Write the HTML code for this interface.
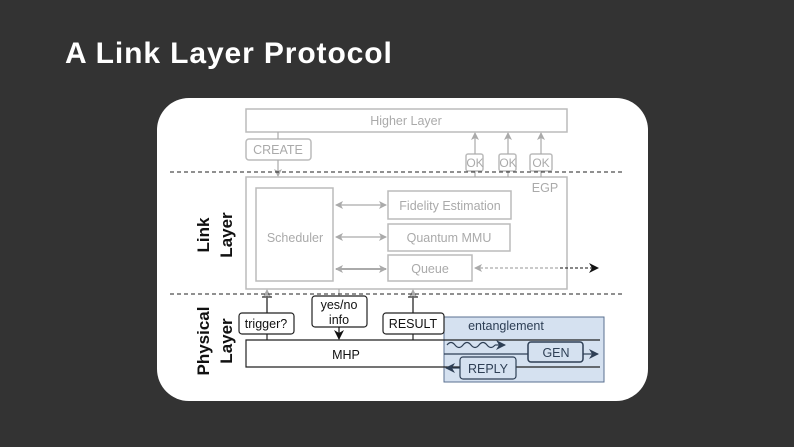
<!DOCTYPE html>
<html><head><style>
body{margin:0;width:794px;height:447px;background:#333333;overflow:hidden;font-family:"Liberation Sans",sans-serif}
</style></head><body>
<svg width="794" height="447" xmlns="http://www.w3.org/2000/svg" style="position:absolute;left:0;top:0">
<defs>
<marker id="ga" markerWidth="8" markerHeight="8" refX="7" refY="4" orient="auto-start-reverse" markerUnits="userSpaceOnUse"><path d="M0,0 L8,4 L0,8 L2,4z" fill="#aaa"/></marker>
<marker id="ka" markerWidth="10" markerHeight="10" refX="9" refY="5" orient="auto-start-reverse" markerUnits="userSpaceOnUse"><path d="M0,0 L10,5 L0,10 L3,5z" fill="#111"/></marker>
<marker id="ba" markerWidth="10" markerHeight="10" refX="9" refY="5" orient="auto-start-reverse" markerUnits="userSpaceOnUse"><path d="M0,0 L10,5 L0,10 L3,5z" fill="#2e3f55"/></marker>
</defs>
<text x="65" y="63" fill="#fff" font-size="30" font-weight="bold" letter-spacing="1.2" textLength="328" lengthAdjust="spacing">A Link Layer Protocol</text>
<rect x="157" y="98" width="491" height="303" rx="32" fill="#fff"/>
<g fill="none" stroke="#bbb" stroke-width="1.5">
<rect x="246" y="109" width="321" height="23"/>
<rect x="246" y="139" width="65" height="21" rx="3"/>
<rect x="466" y="154" width="17" height="17" rx="2"/>
<rect x="499" y="154" width="17" height="17" rx="2"/>
<rect x="530" y="154" width="22" height="17" rx="2"/>
<rect x="246" y="177" width="321" height="112"/>
<rect x="256" y="188" width="77" height="93"/>
<rect x="388" y="191" width="123" height="28"/>
<rect x="388" y="224" width="122" height="27"/>
<rect x="388" y="255" width="84" height="26"/>
</g>
<g stroke="#aaa" stroke-width="1.2" fill="none">
<line x1="278" y1="132" x2="278" y2="139"/>
<line x1="278" y1="160" x2="278" y2="176" marker-end="url(#ga)"/>
<line x1="475" y1="154" x2="475" y2="133" marker-end="url(#ga)"/>
<line x1="508" y1="154" x2="508" y2="133" marker-end="url(#ga)"/>
<line x1="541" y1="154" x2="541" y2="133" marker-end="url(#ga)"/>
<line x1="475" y1="171" x2="475" y2="177"/><line x1="508" y1="171" x2="508" y2="177"/><line x1="541" y1="171" x2="541" y2="177"/>
<line x1="336" y1="205" x2="386" y2="205" marker-start="url(#ga)" marker-end="url(#ga)"/>
<line x1="336" y1="237" x2="386" y2="237" marker-start="url(#ga)" marker-end="url(#ga)"/>
<line x1="336" y1="269" x2="386" y2="269" marker-start="url(#ga)" marker-end="url(#ga)" stroke-width="2"/>
<line x1="475" y1="268" x2="560" y2="268" stroke-dasharray="3,2" marker-start="url(#ga)"/>
<line x1="267" y1="313" x2="267" y2="290" marker-end="url(#ga)"/>
<line x1="413" y1="313" x2="413" y2="290" marker-end="url(#ga)"/>
<line x1="339" y1="289" x2="339" y2="296"/>
</g>
<line x1="560" y1="268" x2="598" y2="268" stroke="#111" stroke-width="1" stroke-dasharray="3,2" marker-end="url(#ka)"/>
<g stroke="#222" stroke-width="1" stroke-dasharray="4,3">
<line x1="170" y1="172" x2="622" y2="172"/>
<line x1="170" y1="294" x2="622" y2="294"/>
</g>
<g fill="#aaa" font-size="12.5" text-anchor="middle">
<text x="406" y="125">Higher Layer</text>
<text x="278" y="154">CREATE</text>
<text x="475" y="167" font-size="12">OK</text><text x="508" y="167" font-size="12">OK</text><text x="541" y="167" font-size="12">OK</text>
<text x="545" y="192">EGP</text>
<text x="295" y="242">Scheduler</text>
<text x="450" y="210">Fidelity Estimation</text>
<text x="449" y="242">Quantum MMU</text>
<text x="430" y="273">Queue</text>
</g>
<rect x="444" y="317" width="160" height="65" fill="#d5e1f0" stroke="#5a7090" stroke-width="1"/>
<g fill="none" stroke="#222" stroke-width="1.2">
<line x1="267" y1="334" x2="267" y2="340"/><line x1="413" y1="334" x2="413" y2="340"/>
<line x1="262" y1="297" x2="272" y2="297"/><line x1="408" y1="297" x2="418" y2="297"/>
<rect x="239" y="313" width="55" height="21" rx="3"/>
<rect x="312" y="296" width="55" height="31" rx="3"/>
<rect x="383" y="313" width="61" height="21" rx="3"/>
<polyline points="600,340 246,340 246,367 600,367"/>
</g>
<line x1="267" y1="313" x2="267" y2="298" stroke="#222" stroke-width="1.2"/>
<line x1="413" y1="313" x2="413" y2="298" stroke="#222" stroke-width="1.2"/>
<line x1="339" y1="327" x2="339" y2="339" stroke="#111" stroke-width="1.2" marker-end="url(#ka)"/>
<g fill="none" stroke="#2e3f55" stroke-width="1.2">
<path d="M447,345 q4,-5 8,0 t8,0 t8,0 t8,0 t8,0 t8,0" />
<line x1="495" y1="345" x2="505" y2="345" marker-end="url(#ba)"/>
<line x1="444" y1="354" x2="528" y2="354"/>
<line x1="583" y1="354" x2="598" y2="354" marker-end="url(#ba)"/>
<line x1="460" y1="368" x2="446" y2="368" marker-end="url(#ba)"/>
<rect x="528" y="342" width="55" height="20" rx="3" fill="#d5e1f0" stroke-width="1.5"/>
<rect x="460" y="357" width="56" height="22" rx="3" fill="#d5e1f0"/>
</g>
<g fill="#111" font-size="12.5" text-anchor="middle">
<text x="266" y="328">trigger?</text>
<text x="339" y="309">yes/no</text>
<text x="339" y="324">info</text>
<text x="413" y="328">RESULT</text>
<text x="346" y="359">MHP</text>
</g>
<g fill="#2e3f55" font-size="12.5" text-anchor="middle">
<text x="506" y="330">entanglement</text>
<text x="556" y="357">GEN</text>
<text x="488" y="373">REPLY</text>
</g>
<g fill="#111" font-weight="bold" font-size="17" text-anchor="middle">
<text transform="translate(209,235) rotate(-90)">Link</text>
<text transform="translate(232,235) rotate(-90)">Layer</text>
<text transform="translate(209,341) rotate(-90)">Physical</text>
<text transform="translate(232,341) rotate(-90)">Layer</text>
</g>
</svg>
</body></html>
